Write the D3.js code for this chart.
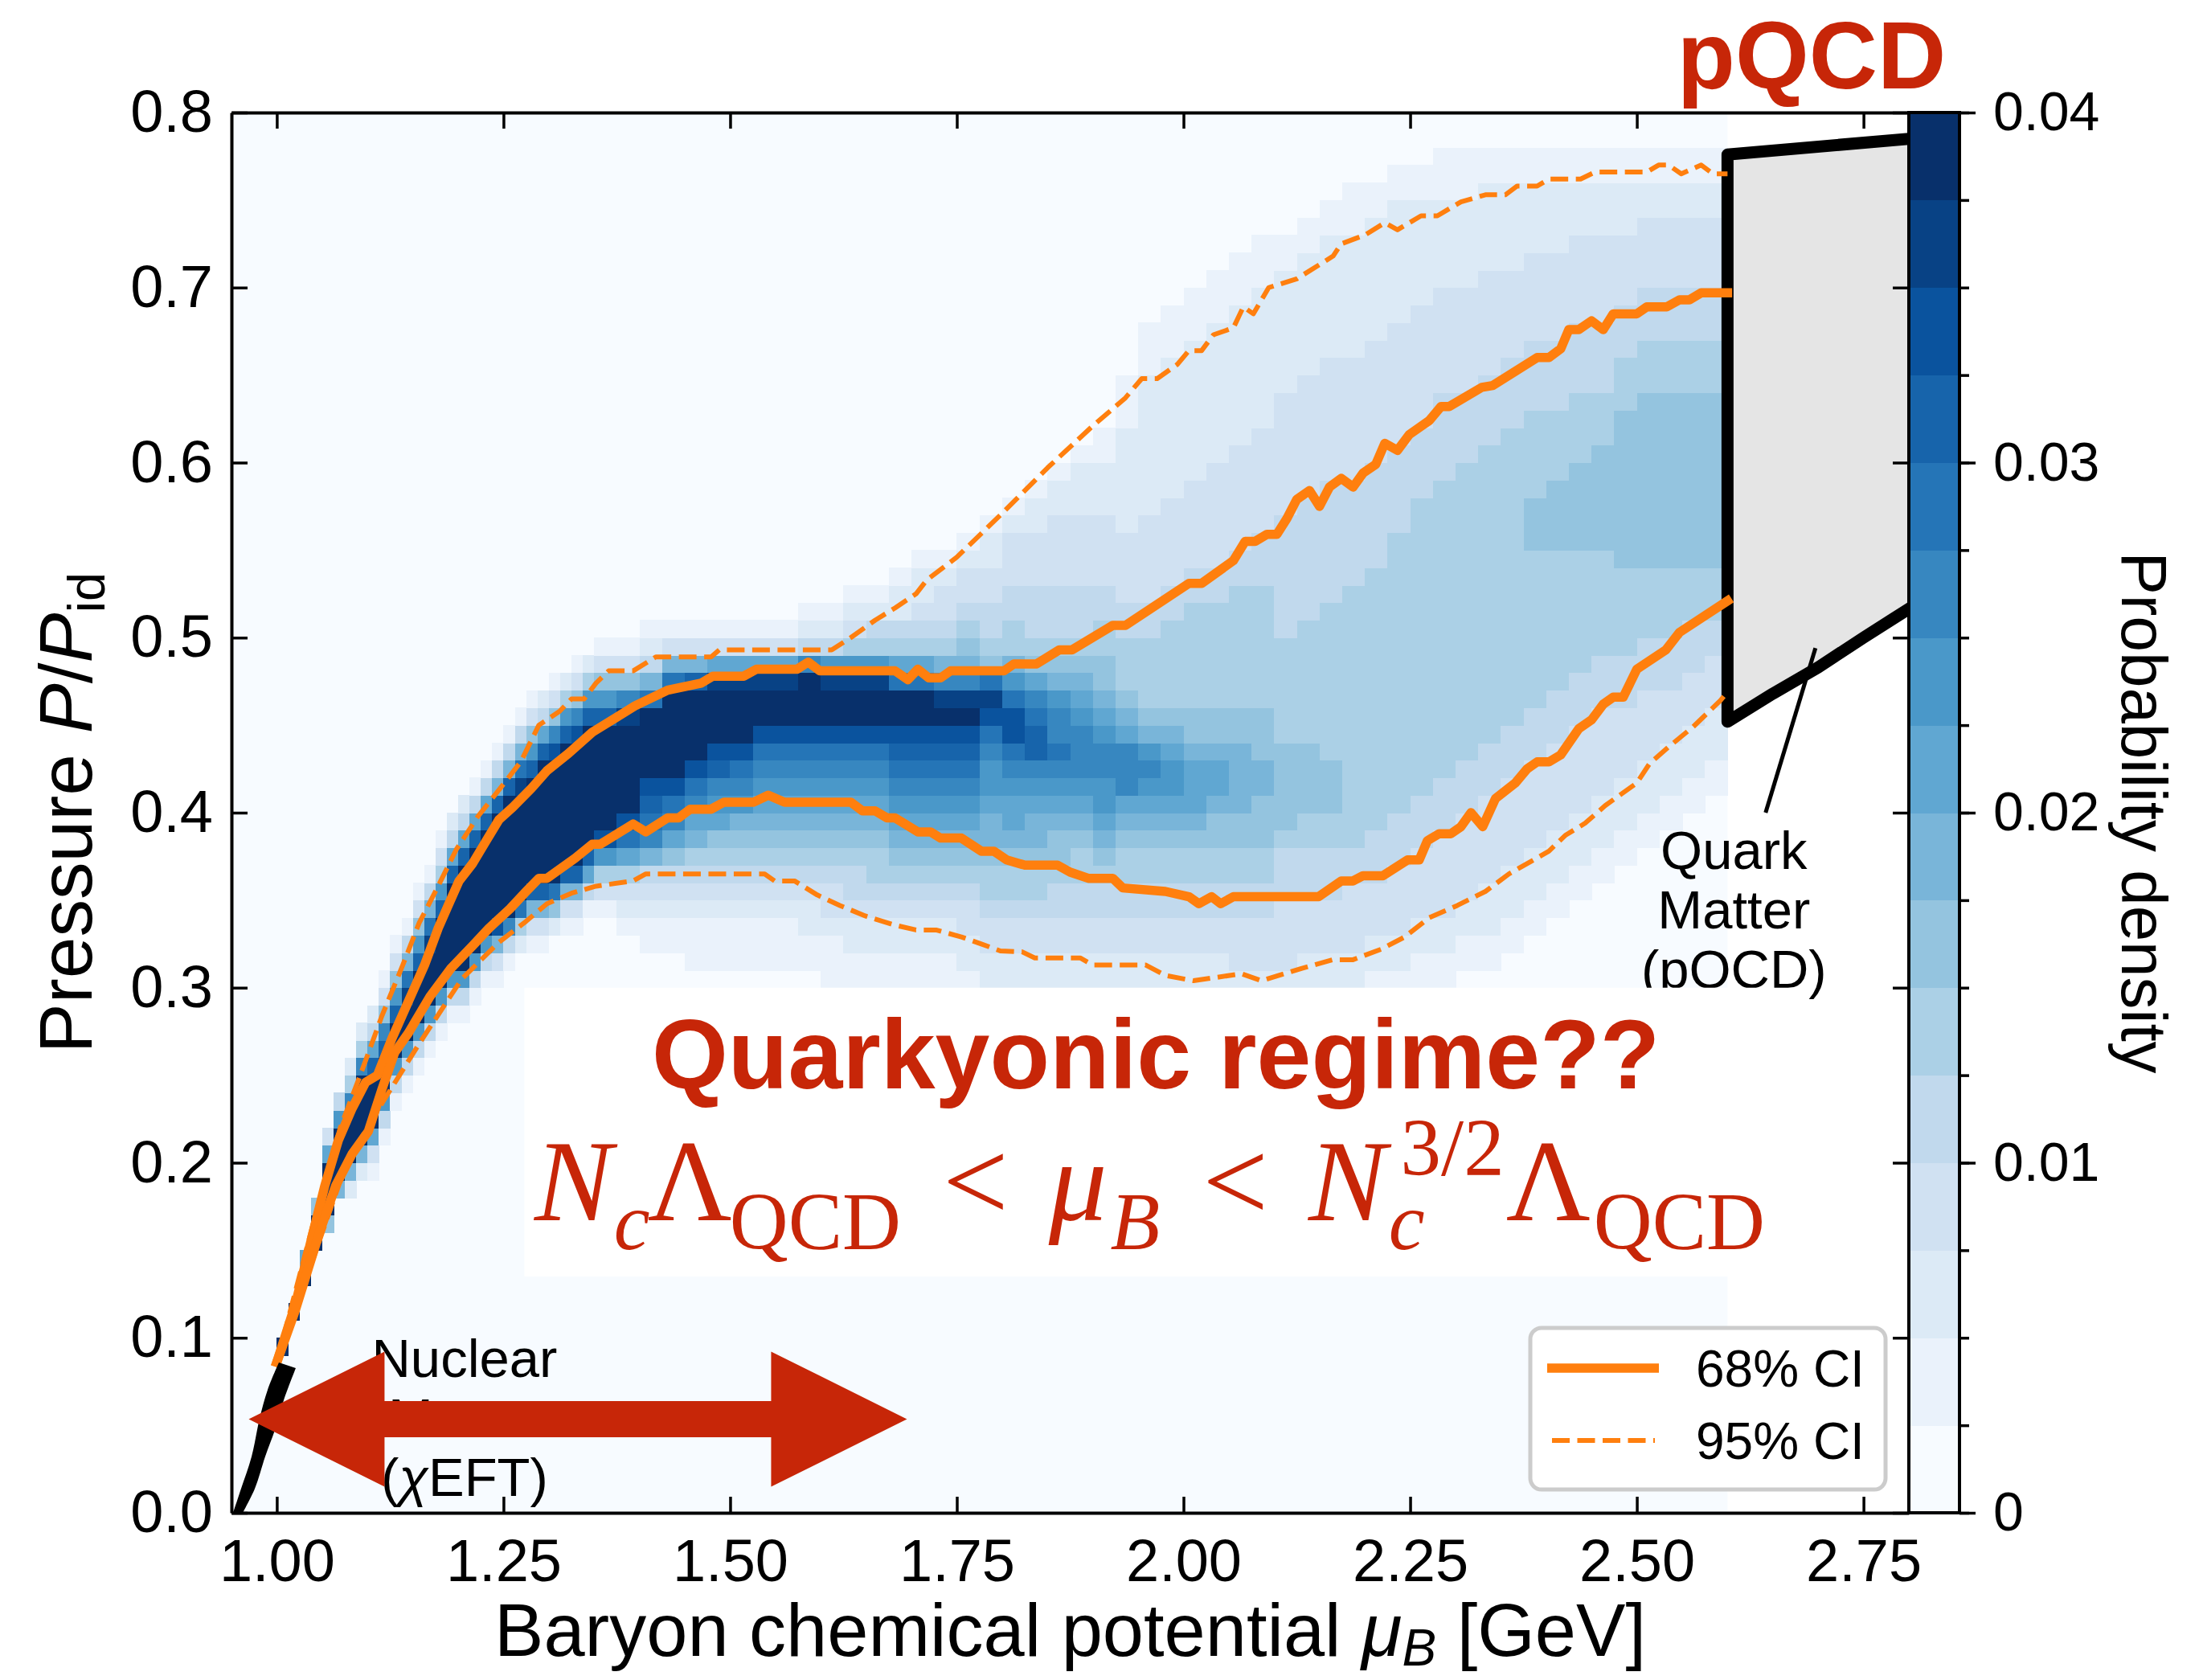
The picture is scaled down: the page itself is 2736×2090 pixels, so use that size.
<!DOCTYPE html>
<html>
<head>
<meta charset="utf-8">
<script src="https://cdn.jsdelivr.net/npm/d3@7"></script>
<style>
  html, body { margin: 0; padding: 0; background: #fff; }
  svg { display: block; }
  .tick text { font-family: "Liberation Sans", Arial, Helvetica, sans-serif; font-size: 74px; fill: #000; }
  .tick line { stroke: #000; stroke-width: 3.5; }
  .domain { stroke: #000; stroke-width: 4; }
  .cbar .tick text { font-size: 68px; }
</style>
</head>
<body>
<div id="chart"></div>
<script>
////////////////////////////  Data  ////////////////////////////////
const xTicks = [1.0, 1.25, 1.5, 1.75, 2.0, 2.25, 2.5, 2.75];
const yTicks = [0.0, 0.1, 0.2, 0.3, 0.4, 0.5, 0.6, 0.7, 0.8];
const cbarTicks = [0, 0.01, 0.02, 0.03, 0.04];
const densityLevels = [0, 0.0025, 0.005, 0.0075, 0.01, 0.0125, 0.015, 0.0175, 0.02,
  0.0225, 0.025, 0.0275, 0.03, 0.0325, 0.035, 0.0375, 0.04];

// histogram: range of the binned area, row height in P, column edges in mu
const histMu = [0.95, 2.6];
const histP = [0, 0.8];
const pBin = 0.01;
const colEdges = [
  1.0, 1.0125, 1.025, 1.0375, 1.05, 1.0625, 1.075, 1.0875, 1.1, 1.1125,
  1.125, 1.1375, 1.15, 1.1625, 1.175, 1.1875, 1.2, 1.2125, 1.225, 1.2375,
  1.25, 1.2625, 1.275, 1.2875, 1.3, 1.3125, 1.325, 1.3375,
  1.35, 1.375, 1.4, 1.425, 1.45, 1.475, 1.5, 1.525, 1.55, 1.575,
  1.6, 1.625, 1.65, 1.675, 1.7, 1.725, 1.75, 1.775, 1.8, 1.825,
  1.85, 1.875, 1.9, 1.925, 1.95, 1.975, 2.0, 2.025, 2.05, 2.075,
  2.1, 2.125, 2.15, 2.175, 2.2, 2.225, 2.25, 2.275, 2.3, 2.325,
  2.35, 2.375, 2.4, 2.425, 2.45, 2.475, 2.5, 2.525, 2.55, 2.575, 2.6
];
// first occupied P-row of each column
const colStart = [
  9, 11, 13, 15, 16, 18, 18, 19, 19, 21, 23, 24, 25, 26, 27, 28, 28, 29, 30, 30,
  31, 32, 32, 32, 33, 33, 33, 34,
  34, 33, 32, 32, 31, 31, 31, 31, 31, 31, 30, 30, 29, 30, 29, 29, 28, 28, 27, 27,
  27, 26, 26, 27, 27, 27, 27, 27, 27, 27, 28, 28, 28, 28, 29, 29, 30, 30, 31, 31,
  32, 33, 34, 35, 36, 37, 38, 39, 40, 41
];
// colour level (0-15, step 0.0025) going up each column, "level:count"
const colRuns = [
  "15", "15", "15 8", "15:2 6", "6 15:3 8 3", "7 15:3 9 4", "2 7 15:3 10 5 2",
  "2 7 15:4 10 5 2", "1 3 8 15:3 12 8 4 2", "1 4 9 15:2 12 10 6 3 1",
  "1 4 9 15:2 12 9 6 3 1", "1 4 9 15:2 14 11 7 4 1", "1 4 9 15:3 12 9 6 3 1",
  "1 4 9 15:3 14 11 7 4 1", "1 4 9 15:4 12 9 5 3 1", "1 4 9 15:5 12 8 4 2",
  "1 4 9 15:6 12 8 4 2", "1 4 9 15:6 12 8 4 1", "1 4 9 15:6 12 8 4 1",
  "1 3 7 13 15:6 12 7 4 1", "1 4 10 15:7 12 7 4 1", "2 5 11 15:6 14 11 7 4 1",
  "1 3 7 12 15:6 12 9 6 3 1", "1 3 7 12 15:7 12 8 4 2", "2 6 11 15:7 13 10 6 3 1",
  "1 3 7 12 15:7 12 9 5 2", "1 3 7 12 15:7 13 10 6 3 1", "1 4 8 12 15:7 12 9 5 2",
  "1 3 5 9 13 15:6 12 9 6 3 1",
  "1 2 3 5 8 11 13 15:5 14 10 6 3 1",
  "1:2 2 3 4 7 10 11 12 13 15:4 11 7 4 2 1",
  "1:2 2 3 4 6 8 10 11 13 15:5 11 7 3 1",
  "1:3 2 3 4 5 7 8 10 11 13 15:4 12 7 3 1",
  "1:3 2 3 4 5 6 8 9 10 12 13 15:3 14 8 3 1",
  "1:3 2 3 4 5 6 7 9 10 11 13 15:3 14 8 3 1",
  "1:3 2 3 4 5 6 7 8 9 10 11 13 15:2 14 8 3 1",
  "1:3 2 3 4 5 6 7 8 9 10 11 13 15:2 14 8 3 1",
  "1:2 2:2 3 4 5 6 7 8 9 10 11 13 15:3 10 4 2 1",
  "1:3 2 3:2 4 5 6 7 8 9 10 11 13 15:2 14 9 4 2 1",
  "1:2 2:2 3 4:2 5 6 7 8 9 10 11 13 15:2 14 9 5 3 2 1",
  "1:3 2:2 3 4 5:2 6 7 8 9 10 11 13 15:2 14 9 5 4 2 1",
  "1:2 2:2 3 4 5 6 7 8 9 10 11 12 13 15:2 11 8 5 4 2:2 1",
  "1:3 2:2 3 4 5 6 7 8 9 10 11 12 13 15:2 11 8 5 4 3 2:2 1",
  "1:3 2:2 3 4 5 6 7 8 9 10 11 12 13 15 14 10 7 5 4 3:2 2 1",
  "1:3 2:2 3:2 4 5 6 7 8 9 10 11 12 13 15 14 10 7 6 5 4 3:2 2 1",
  "1:2 2:2 3:2 4 5:2 6 7:2 8 9:2 10 11 13 14 11 6 5 4:2 3:2 2:2 1",
  "1:3 2:2 3:2 4 5:2 6 7 8:2 9 10 11 13:2 11 9 7 5:2 4:2 3:3 2 1",
  "1:3 2:2 3:2 4 5:2 6 7:2 8 9 10 12:2 11 10 8 6 5 4:3 3:3 2:2 1",
  "1:2 2:3 3:2 4:2 5 6:2 7 8 9 10 11 10:2 9 7 6 5 4:3 3:4 2:2 1",
  "1:3 2:3 3:2 4:2 5:2 6 7 8 9 10:3 9 8 7 6 5 4:3 3:4 2:3 1",
  "1:3 2:3 3:2 4:2 5 6 7 8 9:2 10:2 9 8 7 6:2 5:2 4:2 3:4 2:3 1:2",
  "1:3 2:2 3:2 4:2 5:2 6 7 8 10:3 8 7 6 5:3 4:2 3:4 2:6 1:3",
  "1:3 2:2 3:2 4:2 5:2 6 7 8 9 10 9 7 6 5:4 4:2 3:5 2:8 1:3",
  "1:3 2:2 3:2 4:2 5:2 6 7 8 9:2 8 7 6 5:5 4:2 3:5 2:8 1:3",
  "1:2 2:3 3:2 4:2 5:2 6 7 8:3 7 6:2 5:6 4:2 3:5 2:8 1:3",
  "1:2 2:3 3:2 4:2 5:2 6:2 7 8:2 7 6:2 5:6 4:2 3:6 2:8 1:3",
  "1:2 2:2 3:3 4:2 5:2 6:2 7:4 6:2 5:7 4:2 3:6 2:8 1:3",
  "1:2 2:2 3:3 4:2 5:2 6:3 7:2 6:3 5:7 4:3 3:6 2:8 1:3",
  "1 2:2 3:4 4:3 5 6:5 5:6 4:7 3:7 2:7 1:2",
  "1:2 2:2 3:3 4:3 5:2 6:4 5:7 4:7 3:7 2:7 1:2",
  "1:2 2:2 3:3 4:3 5:2 6:3 5:9 4:7 3:7 2:7 1:2",
  "1:2 2:2 3:4 4:2 5:15 4:6 3:7 2:7 1:3",
  "1:2 2:2 3:3 4:3 5:15 4:6 3:7 2:7 1:2",
  "1:2 2:2 3:4 4:3 5:16 4:5 3:7 2:7 1:2",
  "1:2 2:2 3:4 4:3 5:17 4:4 3:7 2:6 1:2",
  "1:2 2:2 3:5 4:3 5:17 4:5 3:6 2:5 1:3",
  "1:2 2:2 3:5 4:3 5:17 4:4 3:6 2:5 1:3",
  "1:2 2:3 3:5 4:3 5:17 4:4 3:6 2:5 1:2",
  "1:2 2:3 3:5 4:3 5:17 4:4 3:5 2:5 1:2",
  "1:2 2:3 3:5 4:3 5:9 6:3 5:5 4:4 3:5 2:4 1:2",
  "1:2 2:3 3:5 4:3 5:8 6:4 5:4 4:4 3:5 2:4 1:2",
  "1:2 2:3 3:5 4:3 5:7 6:5 5:4 4:4 3:5 2:3 1:2",
  "1:2 2:3 3:5 4:3 5:6 6:6 5:3 4:4 3:5 2:3 1:2",
  "1:2 2:3 3:4 4:3 5:5 6:9 5:3 4:3 3:4 2:3 1:2",
  "1:2 2:3 3:4 4:3 5:4 6:10 5:3 4:3 3:4 2:2 1:2",
  "1:2 2:3 3:3 4:3 5:4 6:10 5:3 4:3 3:4 2:2 1:2",
  "1:2 2:3 3:3 4:3 5:3 6:10 5:3 4:3 3:4 2:2 1:2",
  "1:2 2:3 3:3 4:2 5:3 6:10 5:3 4:3 3:4 2:2 1:2"
];

// credible-interval bounds [mu, P/Pid]
const ci68Upper = [[1.0,0.086],[1.021,0.12],[1.039,0.158],[1.053,0.187],[1.068,0.213],[1.083,0.231],
  [1.098,0.246],[1.111,0.25],[1.127,0.271],[1.145,0.292],[1.163,0.313],[1.178,0.334],[1.189,0.347],
  [1.201,0.361],[1.216,0.371],[1.231,0.384],[1.245,0.396],[1.26,0.403],[1.281,0.414],[1.298,0.424],
  [1.322,0.434],[1.348,0.446],[1.395,0.461],[1.431,0.47],[1.468,0.474],[1.481,0.478],[1.515,0.478],
  [1.529,0.482],[1.574,0.482],[1.586,0.486],[1.599,0.481],[1.682,0.481],[1.696,0.476],[1.707,0.482],
  [1.719,0.477],[1.732,0.477],[1.743,0.481],[1.802,0.481],[1.813,0.485],[1.838,0.485],[1.863,0.493],
  [1.877,0.493],[1.922,0.507],[1.936,0.507],[2.006,0.531],[2.02,0.531],[2.055,0.544],[2.068,0.555],
  [2.079,0.555],[2.092,0.559],[2.103,0.559],[2.114,0.568],[2.125,0.579],[2.139,0.584],[2.15,0.575],
  [2.161,0.586],[2.174,0.591],[2.187,0.586],[2.198,0.594],[2.212,0.599],[2.222,0.611],[2.236,0.607],
  [2.249,0.616],[2.271,0.624],[2.284,0.632],[2.293,0.632],[2.329,0.643],[2.341,0.644],[2.39,0.66],
  [2.403,0.66],[2.416,0.665],[2.425,0.676],[2.436,0.676],[2.45,0.681],[2.463,0.676],[2.474,0.685],
  [2.5,0.685],[2.511,0.689],[2.533,0.689],[2.547,0.693],[2.558,0.693],[2.571,0.697],[2.6,0.697]];
const ci68Lower = [[1.0,0.086],[1.02,0.115],[1.035,0.14],[1.047,0.16],[1.065,0.187],[1.083,0.205],
  [1.101,0.218],[1.116,0.242],[1.13,0.263],[1.145,0.274],[1.169,0.295],[1.192,0.311],[1.216,0.324],
  [1.234,0.334],[1.257,0.345],[1.275,0.355],[1.289,0.3625],[1.298,0.3625],[1.329,0.374],[1.348,0.382],
  [1.357,0.382],[1.393,0.3935],[1.407,0.389],[1.431,0.397],[1.443,0.397],[1.456,0.402],[1.479,0.402],
  [1.493,0.406],[1.526,0.406],[1.542,0.41],[1.56,0.406],[1.633,0.406],[1.646,0.401],[1.66,0.401],
  [1.673,0.397],[1.682,0.397],[1.707,0.389],[1.721,0.389],[1.732,0.3855],[1.755,0.3855],[1.777,0.378],
  [1.791,0.378],[1.805,0.373],[1.825,0.37],[1.861,0.37],[1.875,0.366],[1.895,0.3625],[1.922,0.3625],
  [1.933,0.357],[1.98,0.355],[2.006,0.352],[2.017,0.348],[2.031,0.352],[2.041,0.348],[2.055,0.352],
  [2.149,0.352],[2.174,0.361],[2.187,0.361],[2.198,0.364],[2.22,0.364],[2.247,0.373],[2.26,0.373],
  [2.269,0.384],[2.282,0.388],[2.295,0.388],[2.306,0.392],[2.317,0.4],[2.33,0.392],[2.344,0.408],
  [2.366,0.417],[2.379,0.425],[2.39,0.429],[2.403,0.429],[2.416,0.433],[2.436,0.448],[2.45,0.453],
  [2.463,0.462],[2.474,0.466],[2.485,0.466],[2.5,0.482],[2.532,0.493],[2.547,0.503],[2.6,0.521]];
const ci95Upper = [[1.0,0.086],[1.04,0.165],[1.07,0.22],[1.092,0.25],[1.116,0.284],[1.139,0.313],
  [1.157,0.337],[1.175,0.355],[1.198,0.379],[1.222,0.398],[1.245,0.413],[1.269,0.429],[1.289,0.45],
  [1.312,0.458],[1.325,0.465],[1.339,0.465],[1.352,0.474],[1.366,0.481],[1.393,0.481],[1.418,0.489],
  [1.479,0.489],[1.488,0.493],[1.612,0.493],[1.633,0.5],[1.66,0.51],[1.682,0.517],[1.705,0.525],
  [1.717,0.533],[1.75,0.546],[1.8,0.571],[1.85,0.597],[1.9,0.621],[1.936,0.637],[1.954,0.648],
  [1.971,0.648],[1.993,0.656],[2.006,0.664],[2.02,0.664],[2.033,0.673],[2.055,0.677],[2.066,0.689],
  [2.077,0.685],[2.094,0.7],[2.125,0.705],[2.165,0.718],[2.174,0.725],[2.2,0.73],[2.222,0.737],
  [2.236,0.733],[2.262,0.741],[2.28,0.741],[2.306,0.749],[2.333,0.753],[2.355,0.753],[2.368,0.758],
  [2.39,0.758],[2.403,0.762],[2.438,0.762],[2.454,0.766],[2.511,0.766],[2.524,0.77],[2.535,0.77],
  [2.549,0.765],[2.571,0.77],[2.584,0.765],[2.6,0.765]];
const ci95Lower = [[1.0,0.086],[1.04,0.145],[1.077,0.2],[1.116,0.234],[1.157,0.268],[1.204,0.305],
  [1.245,0.326],[1.275,0.338],[1.298,0.348],[1.325,0.354],[1.352,0.358],[1.393,0.361],[1.407,0.365],
  [1.538,0.365],[1.549,0.361],[1.571,0.361],[1.596,0.353],[1.621,0.347],[1.649,0.341],[1.68,0.336],
  [1.705,0.333],[1.727,0.333],[1.755,0.329],[1.777,0.325],[1.798,0.321],[1.822,0.3205],[1.836,0.317],
  [1.886,0.317],[1.9,0.313],[1.958,0.313],[1.98,0.307],[2.011,0.304],[2.064,0.308],[2.086,0.304],
  [2.13,0.311],[2.165,0.316],[2.187,0.316],[2.218,0.322],[2.244,0.329],[2.271,0.34],[2.302,0.347],
  [2.333,0.355],[2.359,0.365],[2.403,0.378],[2.421,0.387],[2.443,0.394],[2.465,0.404],[2.5,0.417],
  [2.514,0.428],[2.536,0.438],[2.562,0.449],[2.592,0.464],[2.6,0.469]];

// chiEFT band edges and pQCD region edges [mu, P/Pid]
const chiEftLeft = [[0.9518,0],[0.9606,0.0138],[0.9722,0.0322],[0.981,0.0538],[0.9899,0.0703],[1.0023,0.0859]];
const chiEftRight = [[0.9624,0],[0.9757,0.0138],[0.9872,0.0322],[0.9979,0.0473],[1.0076,0.0643],[1.0209,0.0827]];
const pqcdUpper = [[2.6,0.776],[2.8,0.785],[2.9,0.7895]];
const pqcdLower = [[2.6,0.452],[2.65,0.468],[2.7,0.483],[2.75,0.5],[2.8,0.5165],[2.9,0.548]];
// double arrow of the quarkyonic window
const arrowMu = [0.969, 1.695];
const arrowP = 0.0535;

////////////////////////////  Init  ////////////////////////////////
const width = 2736, height = 2090;
const plot = { left: 288, right: 2375, top: 140, bottom: 1882 };
const red = "#c72608";
const orange = "#ff7f0e";
const sans = '"Liberation Sans", Arial, Helvetica, sans-serif';
const serif = '"Liberation Serif", "Times New Roman", serif';

const svg = d3.select("#chart").append("svg")
  .attr("width", width).attr("height", height)
  .attr("viewBox", `0 0 ${width} ${height}`);
svg.append("rect").attr("width", width).attr("height", height).attr("fill", "#fff");

const x = d3.scaleLinear().domain([0.95, 2.8]).range([plot.left, plot.right]);
const y = d3.scaleLinear().domain([0, 0.8]).range([plot.bottom, plot.top]);

// matplotlib "Blues", 16 discrete levels
const blues9 = ["#f7fbff", "#deebf7", "#c6dbef", "#9ecae1", "#6baed6", "#4292c6", "#2171b5", "#08519c", "#08306b"];
const cmap = d3.scaleLinear().domain(blues9.map((_, i) => i / 8)).range(blues9).interpolate(d3.interpolateRgb);
const levelColors = d3.range(16).map(i => cmap(i / 15));
const color = d3.scaleThreshold().domain(densityLevels.slice(1, -1)).range(levelColors);

svg.append("defs").append("clipPath").attr("id", "plot-clip")
  .append("rect").attr("x", plot.left).attr("y", plot.top)
  .attr("width", plot.right - plot.left).attr("height", plot.bottom - plot.top);

const g = svg.append("g").attr("clip-path", "url(#plot-clip)");

////////////////////////////  Heatmap  /////////////////////////////
g.append("rect")
  .attr("x", x(histMu[0])).attr("y", y(histP[1]))
  .attr("width", x(histMu[1]) - x(histMu[0])).attr("height", y(histP[0]) - y(histP[1]))
  .attr("fill", color(0.001));

const cells = [];
colRuns.forEach((runs, c) => {
  let r = colStart[c];
  runs.split(" ").forEach(tok => {
    const [lv, n] = tok.split(":").map(Number);
    for (let k = 0; k < (n || 1); k++) {
      cells.push({ c, r, v: (lv + 0.5) * 0.0025 });
      r++;
    }
  });
});

g.append("g").attr("shape-rendering", "crispEdges")
  .selectAll("rect").data(cells).enter().append("rect")
  .attr("x", d => x(colEdges[d.c]))
  .attr("y", d => y((d.r + 1) * pBin))
  .attr("width", d => x(colEdges[d.c + 1]) - x(colEdges[d.c]) + 0.6)
  .attr("height", d => y(d.r * pBin) - y((d.r + 1) * pBin) + 0.6)
  .attr("fill", d => color(d.v));

////////////////////////////  pQCD region  /////////////////////////
const pqcdPoly = pqcdUpper.concat(pqcdLower.slice().reverse());
g.append("path")
  .attr("d", "M" + pqcdPoly.map(d => `${x(d[0])},${y(d[1])}`).join("L") + "Z")
  .attr("fill", "#e5e5e5").attr("stroke", "#000").attr("stroke-width", 15)
  .attr("stroke-linejoin", "round");

////////////////////////////  CI lines  ////////////////////////////
const line = d3.line().x(d => x(d[0])).y(d => y(d[1]));
[ci95Upper, ci95Lower].forEach(s => {
  g.append("path").attr("d", line(s)).attr("fill", "none")
    .attr("stroke", orange).attr("stroke-width", 6)
    .attr("stroke-dasharray", "22 9.5").attr("stroke-linejoin", "round");
});
[ci68Upper, ci68Lower].forEach(s => {
  g.append("path").attr("d", line(s)).attr("fill", "none")
    .attr("stroke", orange).attr("stroke-width", 11.5)
    .attr("stroke-linejoin", "round").attr("stroke-linecap", "square");
});

////////////////////////////  chiEFT band  /////////////////////////
const edge = d3.line().x(d => x(d[0])).y(d => y(d[1])).curve(d3.curveCatmullRom);
g.append("path")
  .attr("d", edge(chiEftLeft) + "L" + edge(chiEftRight.slice().reverse()).slice(1) + "Z")
  .attr("fill", "#000");

////////////////////////////  Annotations  /////////////////////////
// Quark matter label + pointer
g.append("line")
  .attr("x1", x(2.642)).attr("y1", y(0.40)).attr("x2", x(2.697)).attr("y2", y(0.494))
  .attr("stroke", "#000").attr("stroke-width", 5);
["Quark", "Matter", "(pQCD)"].forEach((t, i) => {
  g.append("text").attr("x", x(2.607)).attr("y", y(0.368) + i * 74)
    .attr("text-anchor", "middle").attr("font-family", sans).attr("font-size", 67)
    .text(t);
});

// white box with the quarkyonic window
g.append("rect")
  .attr("x", x(1.273)).attr("y", y(0.300))
  .attr("width", x(2.687) - x(1.273)).attr("height", y(0.135) - y(0.300))
  .attr("fill", "#fff");
g.append("text").attr("x", x(1.9695)).attr("y", y(0.2425))
  .attr("text-anchor", "middle").attr("font-family", sans).attr("font-weight", "bold")
  .attr("font-size", 122).attr("fill", red).text("Quarkyonic regime??");

const eq = g.append("text").attr("x", x(1.2842)).attr("y", y(0.167))
  .attr("font-family", serif).attr("fill", red);
const eqParts = [
  ["N", 145, "italic", 0, 0], ["c", 101, "italic", 2, 36], ["Λ", 145, "normal", -3, -36],
  ["QCD", 101, "normal", -3, 36], ["<", 145, "normal", 52, -36], ["μ", 145, "italic", 50, 0],
  ["B", 101, "italic", 4, 36], ["<", 145, "normal", 53, -36], ["N", 145, "italic", 50, 0],
  ["c", 101, "italic", 3, 36], ["3/2", 101, "normal", -30, -92], ["Λ", 145, "normal", 2, 56],
  ["QCD", 101, "normal", 4, 36]
];
eqParts.forEach(([t, fs, st, dx, dy]) => {
  eq.append("tspan").attr("font-size", fs).attr("font-style", st)
    .attr("dx", dx).attr("dy", dy).text(t);
});

// nuclear matter label, covered by the arrow
["Nuclear", "Matter", "(χEFT)"].forEach((t, i) => {
  const tx = g.append("text").attr("x", x(1.207)).attr("y", y(0.0775) + i * 74)
    .attr("text-anchor", "middle").attr("font-family", sans).attr("font-size", 67);
  if (t === "(χEFT)") {
    tx.append("tspan").text("(");
    tx.append("tspan").attr("font-style", "italic").text("χ");
    tx.append("tspan").text("EFT)");
  } else tx.text(t);
});

// double arrow
const ax0 = x(arrowMu[0]), ax1 = x(arrowMu[1]), ay = y(arrowP);
const hl = 169, hw = 84, sw = 22.5;
const arrowPts = [[ax0, ay], [ax0 + hl, ay - hw], [ax0 + hl, ay - sw], [ax1 - hl, ay - sw],
  [ax1 - hl, ay - hw], [ax1, ay], [ax1 - hl, ay + hw], [ax1 - hl, ay + sw],
  [ax0 + hl, ay + sw], [ax0 + hl, ay + hw]];
g.append("polygon").attr("points", arrowPts.map(p => p.join(",")).join(" ")).attr("fill", red);

////////////////////////////  Legend  //////////////////////////////
const lg = svg.append("g").attr("transform", "translate(1904,1652)");
lg.append("rect").attr("width", 442).attr("height", 201).attr("rx", 14)
  .attr("fill", "#fff").attr("stroke", "#cccccc").attr("stroke-width", 5);
lg.append("line").attr("x1", 21).attr("x2", 160).attr("y1", 50).attr("y2", 50)
  .attr("stroke", orange).attr("stroke-width", 11.5);
lg.append("line").attr("x1", 27).attr("x2", 155).attr("y1", 140).attr("y2", 140)
  .attr("stroke", orange).attr("stroke-width", 6).attr("stroke-dasharray", "22 9.5");
lg.append("text").attr("x", 206).attr("y", 73).attr("font-family", sans).attr("font-size", 64).text("68% CI");
lg.append("text").attr("x", 206).attr("y", 163).attr("font-family", sans).attr("font-size", 64).text("95% CI");

////////////////////////////  Axes  ////////////////////////////////
const xAxis = d3.axisBottom(x).tickValues(xTicks).tickFormat(d3.format(".2f"))
  .tickSizeInner(-20).tickSizeOuter(0).tickPadding(32);
const yAxis = d3.axisLeft(y).tickValues(yTicks).tickFormat(d3.format(".1f"))
  .tickSizeInner(-20).tickSizeOuter(0).tickPadding(23);
svg.append("g").attr("transform", `translate(0,${plot.bottom})`).call(xAxis);
svg.append("g").attr("transform", `translate(${plot.left},0)`).call(yAxis);
svg.append("g").attr("transform", `translate(0,${plot.top})`)
  .call(d3.axisTop(x).tickValues(xTicks).tickFormat("").tickSizeInner(-20).tickSizeOuter(0));
svg.append("g").attr("transform", `translate(${plot.right},0)`)
  .call(d3.axisRight(y).tickValues(yTicks).tickFormat("").tickSizeInner(-20).tickSizeOuter(0));

////////////////////////////  Colorbar  ////////////////////////////
const cb = { left: 2375, right: 2438 };
const cbY = d3.scaleLinear().domain([0, 0.04]).range([plot.bottom, plot.top]);
svg.append("g").attr("shape-rendering", "crispEdges")
  .selectAll("rect").data(d3.range(16)).enter().append("rect")
  .attr("x", cb.left).attr("width", cb.right - cb.left)
  .attr("y", i => cbY(densityLevels[i + 1]))
  .attr("height", i => cbY(densityLevels[i]) - cbY(densityLevels[i + 1]) + 0.6)
  .attr("fill", i => levelColors[i]);
svg.append("g").attr("transform", `translate(${cb.right},0)`)
  .call(d3.axisRight(cbY).tickValues(densityLevels).tickFormat("").tickSizeInner(12).tickSizeOuter(0))
  .call(a => a.select(".domain").remove());
svg.append("g").attr("class", "cbar").attr("transform", `translate(${cb.right},0)`)
  .call(d3.axisRight(cbY).tickValues(cbarTicks).tickFormat(d => d === 0 ? "0" : d3.format(".2f")(d))
    .tickSizeInner(20).tickSizeOuter(0).tickPadding(22))
  .call(a => a.select(".domain").remove());
svg.append("rect").attr("x", cb.left).attr("y", plot.top)
  .attr("width", cb.right - cb.left).attr("height", plot.bottom - plot.top)
  .attr("fill", "none").attr("stroke", "#000").attr("stroke-width", 4);

////////////////////////////  Labels  //////////////////////////////
const xl = svg.append("text").attr("x", (plot.left + plot.right) / 2).attr("y", 2060)
  .attr("text-anchor", "middle").attr("font-family", sans).attr("font-size", 92);
xl.append("tspan").text("Baryon chemical potential ");
xl.append("tspan").attr("font-style", "italic").text("μ");
xl.append("tspan").attr("font-style", "italic").attr("font-size", 64).attr("dy", 12).text("B");
xl.append("tspan").attr("dy", -12).text(" [GeV]");

const yl = svg.append("text")
  .attr("transform", `translate(114,${(plot.top + plot.bottom) / 2}) rotate(-90)`)
  .attr("text-anchor", "middle").attr("font-family", sans).attr("font-size", 93);
yl.append("tspan").text("Pressure ");
yl.append("tspan").attr("font-style", "italic").text("P");
yl.append("tspan").text("/");
yl.append("tspan").attr("font-style", "italic").text("P");
yl.append("tspan").attr("font-size", 65).attr("dy", 16).text("id");

svg.append("text")
  .attr("transform", `translate(2640,${(plot.top + plot.bottom) / 2}) rotate(90)`)
  .attr("text-anchor", "middle").attr("font-family", sans).attr("font-size", 80)
  .text("Probability density");

svg.append("text").attr("x", 2254).attr("y", 110).attr("text-anchor", "middle")
  .attr("font-family", sans).attr("font-weight", "bold").attr("font-size", 118)
  .attr("fill", red).text("pQCD");
</script>
</body>
</html>
